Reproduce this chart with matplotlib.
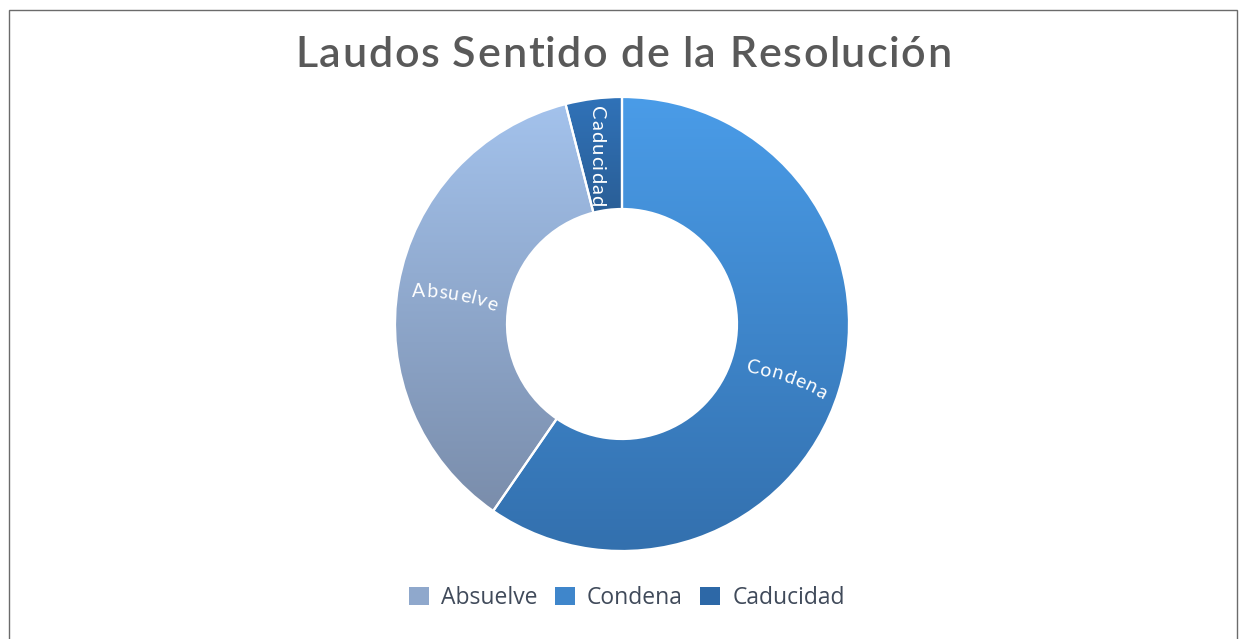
import numpy as np
import matplotlib
matplotlib.use('Agg')
import matplotlib.pyplot as plt
from matplotlib.patches import Patch, Rectangle
from matplotlib.colors import LinearSegmentedColormap
from matplotlib.font_manager import FontProperties

# ---- data ----
categories = ['Condena', 'Absuelve', 'Caducidad']
values = [59.6, 36.4, 4.0]
legend_order = ['Absuelve', 'Condena', 'Caducidad']
title = 'Laudos Sentido de la Resolución'

grad = {
    'Condena': ('#4a9ce8', '#3370ae'),
    'Absuelve': ('#a3c2ec', '#7a8dab'),
    'Caducidad': ('#3072b8', '#2a5e96'),
}

W, H = 1242, 639
fig = plt.figure(figsize=(W / 100, H / 100), dpi=100)
ax = fig.add_axes([0, 0, 1, 1])

cx, cy = 622, H - 324
R = 227
wedges, _ = ax.pie(values, radius=R, center=(cx, cy), startangle=90,
                   counterclock=False, frame=True,
                   wedgeprops=dict(width=112, edgecolor='white', linewidth=1.6))

grad_arr = np.linspace(0, 1, 256).reshape(-1, 1)
for w, cat in zip(wedges, categories):
    top, bot = grad[cat]
    cmap = LinearSegmentedColormap.from_list('g_' + cat, [bot, top])
    bb = w.get_path().get_extents()
    im = ax.imshow(grad_arr, cmap=cmap, origin='lower', aspect='auto',
                   extent=(bb.x0, bb.x1, bb.y0, bb.y1), zorder=1,
                   interpolation='bicubic')
    im.set_clip_path(w)
    w.set_facecolor('none')
    w.set_zorder(2)

ax.set_xlim(0, W)
ax.set_ylim(0, H)
ax.axis('off')

renderer = fig.canvas.get_renderer()


def arc_text(s, xc, yc, a0, a1, size, spacing=1.0, family='Lato', color='white',
             weight='normal'):
    fp = FontProperties(family=family, size=size, weight=weight)
    widths = [0.0] + [renderer.get_text_width_height_descent(s[:i], fp, ismath=False)[0]
                      for i in range(1, len(s) + 1)]
    widths = np.array(widths) * spacing
    L = widths[-1]
    mids = (widths[:-1] + widths[1:]) / 2
    ss = np.linspace(0, L, 500)
    th = np.radians(a0 + (a1 - a0) * ss / L)
    ds = np.diff(ss)
    dx = np.concatenate([[0], np.cumsum(np.cos(th[:-1]) * ds)])
    dy = np.concatenate([[0], np.cumsum(np.sin(th[:-1]) * ds)])
    xm = np.interp(L / 2, ss, dx)
    ym = np.interp(L / 2, ss, dy)
    for ch, m in zip(s, mids):
        x = xc + np.interp(m, ss, dx) - xm
        y = yc + np.interp(m, ss, dy) - ym
        ang = a0 + (a1 - a0) * m / L
        ax.text(x, y, ch, rotation=ang, rotation_mode='anchor', ha='center',
                va='baseline', fontproperties=fp, color=color, zorder=5)


arc_text('Absuelve', 454, H - 300, 3, -22, 14, spacing=1.08)
arc_text('Condena', 785, H - 382, -8, -30, 14, spacing=1.1)
arc_text('Caducidad', 591, H - 156, -90, -90, 14.5, spacing=1.1)

# title (slightly letter-spaced to match the wide geometric face)
arc_text(title, 623, H - 67, 0, 0, 31, spacing=1.075, color='#595959',
         weight='semibold')

# legend
handles = []
for cat in legend_order:
    top, bot = grad[cat]
    mid = LinearSegmentedColormap.from_list('m', [bot, top])(0.5)
    handles.append(Patch(facecolor=mid, edgecolor='none', label=cat))
fig.legend(handles=handles, loc='center', bbox_to_anchor=(627 / W, 1 - 598 / H),
           ncol=3, frameon=False, prop=FontProperties(family='Open Sans', size=16.5),
           labelcolor='#404a5a', handlelength=0.85, handleheight=0.85,
           handletextpad=0.55, columnspacing=0.75)

# border
ax.add_patch(Rectangle((8.5, -5), 1228.5, H - 9.5 + 5, fill=False,
                       edgecolor='#6b6b6b', linewidth=1.0, clip_on=False, zorder=10))

fig.savefig('out.png', dpi=100)
